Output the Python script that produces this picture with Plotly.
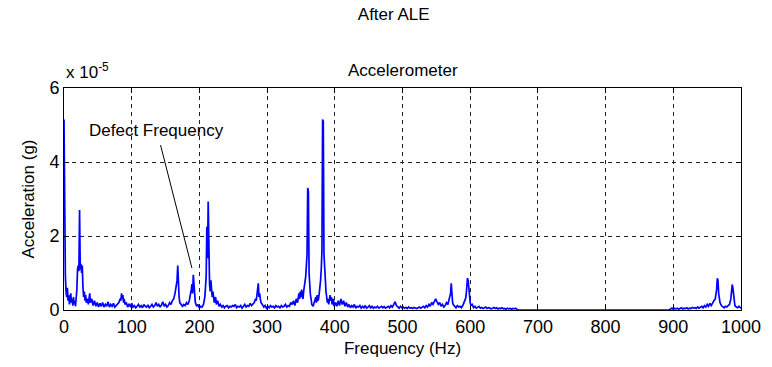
import plotly.graph_objects as go

# Spectrum (frequency in Hz, acceleration in units of 1e-5 g)
freq_hz = [
    0, 1, 2, 3, 4, 5, 6, 7, 8, 9, 10, 11, 12, 13, 14, 15, 16, 17, 18, 19,
    20, 21, 22, 23, 24, 25, 26, 27, 28, 29, 30, 31, 32, 33, 35, 36, 38, 39, 41, 43,
    45, 47, 49, 51, 53, 55, 57, 59, 61, 63, 65, 67, 69, 71, 73, 75, 77, 79, 81, 83,
    84, 85, 86, 87, 88, 89, 90, 92, 94, 96, 98, 100, 102, 104, 106, 108, 110, 112, 114, 116,
    118, 120, 122, 124, 126, 128, 130, 132, 134, 136, 138, 140, 142, 144, 146, 148, 150, 152, 154, 156,
    158, 160, 162, 164, 165, 166, 167, 168, 169, 170, 171, 173, 175, 177, 179, 181, 183, 185, 187, 188,
    189, 190, 191, 192, 193, 194, 196, 198, 200, 202, 204, 206, 208, 209, 210, 211, 212, 213, 214, 215,
    216, 217, 218, 219, 220, 221, 222, 224, 225, 227, 229, 231, 233, 235, 237, 239, 241, 243, 245, 247,
    249, 251, 253, 255, 257, 259, 261, 263, 265, 267, 269, 271, 273, 275, 277, 279, 281, 283, 284, 285,
    286, 287, 288, 289, 290, 291, 293, 295, 297, 299, 301, 303, 305, 307, 309, 311, 313, 315, 317, 319,
    321, 323, 325, 327, 329, 331, 333, 335, 337, 339, 341, 343, 345, 347, 348, 349, 350, 351, 352, 353,
    354, 355, 356, 357, 358, 359, 360, 361, 362, 363, 364, 365, 366, 368, 370, 372, 373, 374, 375, 376,
    377, 378, 379, 380, 381, 382, 383, 384, 385, 386, 387, 388, 389, 390, 391, 393, 394, 395, 396, 398,
    399, 401, 403, 405, 407, 409, 411, 413, 415, 417, 419, 421, 423, 425, 427, 429, 431, 433, 435, 437,
    439, 441, 443, 445, 447, 449, 451, 453, 455, 457, 459, 461, 463, 465, 467, 469, 471, 473, 475, 477,
    479, 481, 483, 485, 487, 489, 491, 493, 495, 497, 499, 501, 503, 505, 507, 509, 511, 513, 515, 517,
    519, 521, 523, 525, 527, 529, 531, 533, 535, 537, 539, 541, 543, 545, 547, 549, 551, 553, 555, 557,
    559, 561, 563, 565, 567, 569, 570, 571, 572, 573, 574, 575, 577, 579, 581, 583, 585, 587, 589, 591,
    593, 594, 595, 596, 597, 598, 599, 600, 601, 603, 605, 607, 609, 611, 613, 615, 617, 619, 621, 623,
    625, 627, 629, 631, 633, 635, 637, 639, 641, 643, 645, 647, 649, 651, 653, 655, 657, 659, 661, 663,
    665, 667, 669, 671, 894, 896, 898, 900, 902, 904, 906, 908, 910, 912, 914, 916, 918, 920, 922, 924,
    926, 928, 930, 932, 934, 936, 938, 940, 942, 944, 946, 948, 950, 952, 954, 956, 958, 960, 962, 963,
    964, 965, 966, 967, 968, 969, 971, 973, 975, 977, 979, 981, 983, 985, 986, 987, 988, 989, 990, 991,
    993, 995, 997, 999, 1000,
]
accel_e5 = [
    5.15, 1.0, 0.95, 0.5, 0.35, 0.6, 0.25, 0.4, 0.15, 0.3, 0.45, 0.2, 0.3, 0.12, 0.35, 0.15, 0.25, 0.1, 0.3, 0.55,
    1.1, 1.2, 1.05, 2.7, 1.1, 1.25, 1.0, 1.2, 0.6, 0.35, 0.5, 0.25, 0.4, 0.2, 0.3, 0.15, 0.45, 0.2, 0.3, 0.12,
    0.25, 0.1, 0.2, 0.08, 0.18, 0.1, 0.2, 0.08, 0.15, 0.1, 0.22, 0.08, 0.15, 0.1, 0.18, 0.08, 0.12, 0.15, 0.2, 0.3,
    0.25, 0.45, 0.3, 0.4, 0.2, 0.3, 0.15, 0.2, 0.08, 0.15, 0.1, 0.18, 0.08, 0.12, 0.06, 0.1, 0.15, 0.08, 0.12, 0.06,
    0.15, 0.1, 0.08, 0.14, 0.06, 0.1, 0.15, 0.08, 0.12, 0.2, 0.1, 0.15, 0.08, 0.14, 0.22, 0.1, 0.15, 0.08, 0.12, 0.2,
    0.15, 0.25, 0.3, 0.45, 0.55, 0.65, 0.8, 1.2, 0.6, 0.35, 0.2, 0.15, 0.1, 0.15, 0.12, 0.2, 0.15, 0.25, 0.4, 0.55,
    0.7, 0.45, 0.95, 0.6, 0.4, 0.2, 0.1, 0.15, 0.05, 0.1, 0.08, 0.15, 0.35, 0.6, 0.9, 2.25, 1.4, 2.93, 1.2, 0.7,
    0.5, 0.8, 0.55, 0.35, 0.5, 0.3, 0.2, 0.35, 0.15, 0.25, 0.1, 0.15, 0.08, 0.12, 0.06, 0.1, 0.12, 0.06, 0.1, 0.08,
    0.12, 0.1, 0.15, 0.06, 0.1, 0.08, 0.12, 0.05, 0.1, 0.15, 0.08, 0.12, 0.1, 0.18, 0.12, 0.15, 0.2, 0.3, 0.25, 0.4,
    0.55, 0.72, 0.35, 0.45, 0.3, 0.2, 0.15, 0.08, 0.12, 0.05, 0.1, 0.06, 0.12, 0.08, 0.1, 0.06, 0.12, 0.08, 0.1, 0.06,
    0.12, 0.08, 0.1, 0.15, 0.08, 0.12, 0.1, 0.2, 0.15, 0.25, 0.12, 0.3, 0.2, 0.45, 0.3, 0.5, 0.35, 0.55, 0.4, 0.3,
    0.5, 0.6, 0.8, 0.9, 1.2, 1.5, 3.3, 3.2, 1.0, 0.6, 0.4, 0.3, 0.15, 0.1, 0.2, 0.35, 0.2, 0.4, 0.25, 0.3,
    0.45, 0.6, 0.8, 1.1, 1.6, 5.15, 5.1, 1.5, 1.0, 0.7, 0.5, 0.35, 0.2, 0.3, 0.15, 0.4, 0.25, 0.35, 0.15, 0.3,
    0.1, 0.2, 0.1, 0.25, 0.12, 0.3, 0.15, 0.25, 0.1, 0.2, 0.08, 0.15, 0.06, 0.12, 0.08, 0.15, 0.05, 0.1, 0.08, 0.12,
    0.05, 0.1, 0.06, 0.12, 0.05, 0.08, 0.12, 0.06, 0.1, 0.05, 0.08, 0.06, 0.1, 0.05, 0.08, 0.1, 0.06, 0.09, 0.05, 0.08,
    0.1, 0.06, 0.12, 0.08, 0.15, 0.22, 0.12, 0.08, 0.05, 0.1, 0.06, 0.08, 0.05, 0.07, 0.04, 0.08, 0.05, 0.06, 0.04, 0.07,
    0.05, 0.04, 0.06, 0.08, 0.05, 0.07, 0.1, 0.06, 0.12, 0.08, 0.15, 0.1, 0.2, 0.15, 0.25, 0.3, 0.22, 0.15, 0.2, 0.1,
    0.15, 0.08, 0.12, 0.2, 0.15, 0.3, 0.35, 0.45, 0.72, 0.4, 0.2, 0.15, 0.1, 0.06, 0.12, 0.08, 0.1, 0.06, 0.12, 0.2,
    0.3, 0.4, 0.6, 0.86, 0.8, 0.5, 0.3, 0.2, 0.12, 0.15, 0.06, 0.1, 0.05, 0.08, 0.1, 0.05, 0.07, 0.04, 0.06, 0.08,
    0.04, 0.06, 0.05, 0.03, 0.05, 0.07, 0.04, 0.06, 0.03, 0.05, 0.04, 0.06, 0.03, 0.04, 0.02, 0.05, 0.03, 0.04, 0.02, 0.04,
    0.03, 0.05, 0.02, 0.0, 0.0, 0.03, 0.05, 0.02, 0.04, 0.03, 0.05, 0.02, 0.04, 0.06, 0.03, 0.05, 0.04, 0.06, 0.03, 0.05,
    0.04, 0.07, 0.05, 0.06, 0.04, 0.08, 0.05, 0.07, 0.1, 0.06, 0.12, 0.08, 0.15, 0.1, 0.18, 0.12, 0.2, 0.25, 0.3, 0.4,
    0.55, 0.86, 0.8, 0.45, 0.3, 0.2, 0.12, 0.08, 0.06, 0.1, 0.08, 0.12, 0.15, 0.3, 0.45, 0.69, 0.6, 0.35, 0.2, 0.12,
    0.08, 0.06, 0.1, 0.05, 0.04,
]

x_ticks = [0, 100, 200, 300, 400, 500, 600, 700, 800, 900, 1000]
y_ticks = [0, 2, 4, 6]
y_tick_labels = ["0", "2", "4", "6"]

fig_title = "After ALE"
axes_title = "Accelerometer"
x_label = "Frequency (Hz)"
y_label = "Acceleration (g)"
scale_label = "x 10<sup>-5</sup>"
defect_label = "Defect Frequency"
defect_text_pos = (137, 4.86)
defect_point = (189, 1.13)

FONT = "Liberation Sans, Arial, sans-serif"

fig = go.Figure()
fig.add_trace(go.Scatter(
    x=freq_hz, y=accel_e5, mode="lines",
    line=dict(color="#0000ff", width=1.7),
    hoverinfo="skip", showlegend=False,
))

axis_common = dict(
    showline=True, linecolor="black", linewidth=1, mirror="ticks",
    ticks="inside", ticklen=5, tickcolor="black", tickwidth=1,
    showgrid=True, gridcolor="#222222", gridwidth=1, griddash="4px,4px",
    zeroline=False,
    tickfont=dict(family=FONT, size=18, color="black"),
)

fig.update_xaxes(
    range=[0, 1000], tickvals=x_ticks, **axis_common,
    title=dict(text=x_label, font=dict(family=FONT, size=17, color="black"), standoff=6),
)
fig.update_yaxes(
    range=[0, 6], tickvals=y_ticks, ticktext=y_tick_labels, **axis_common,
    title=dict(text=y_label, font=dict(family=FONT, size=17, color="black"), standoff=10),
)

fig.add_annotation(
    text=defect_label, x=defect_point[0], y=defect_point[1],
    ax=defect_text_pos[0], ay=defect_text_pos[1], axref="x", ayref="y",
    xref="x", yref="y", showarrow=True, arrowhead=0, arrowwidth=1,
    arrowcolor="black", startstandoff=4,
    font=dict(family=FONT, size=17, color="black"),
)
fig.add_annotation(
    text=axes_title, xref="paper", yref="paper", x=0.5, y=1.081,
    xanchor="center", yanchor="middle", showarrow=False,
    font=dict(family=FONT, size=17, color="black"),
)
fig.add_annotation(
    text=scale_label, xref="paper", yref="paper", x=0.0, y=1.077,
    xanchor="left", yanchor="middle", showarrow=False, xshift=0,
    font=dict(family=FONT, size=17, color="black"),
)

fig.update_layout(
    width=772, height=367,
    margin=dict(l=64, r=31, t=88, b=57),
    paper_bgcolor="white", plot_bgcolor="white",
    title=dict(text=fig_title, x=0.51, xanchor="center", y=0.962, yanchor="middle",
               font=dict(family=FONT, size=17, color="black")),
    font=dict(family=FONT, color="black"),
)

fig.write_html("out.html")
